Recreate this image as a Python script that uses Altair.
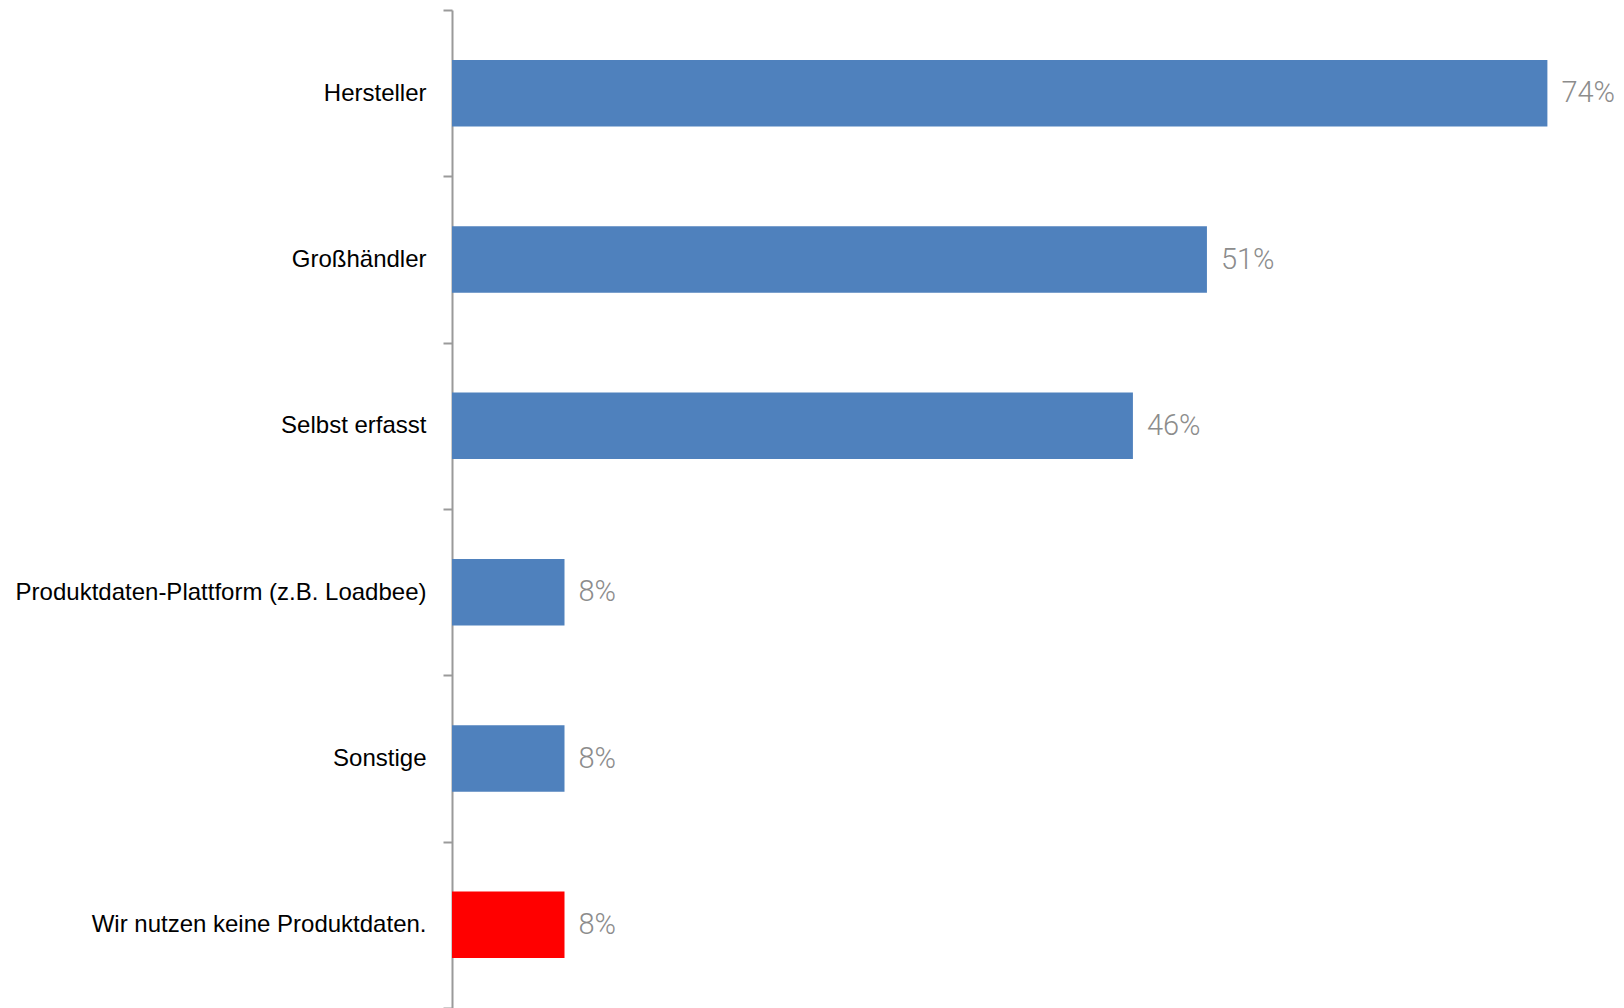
import altair as alt
import pandas as pd

categories = [
    "Hersteller",
    "Großhändler",
    "Selbst erfasst",
    "Produktdaten-Plattform (z.B. Loadbee)",
    "Sonstige",
    "Wir nutzen keine Produktdaten.",
]
values = [74.0, 51.0, 46.0, 7.6, 7.6, 7.6]
value_labels = ["74%", "51%", "46%", "8%", "8%", "8%"]
bar_colors = ["#4f81bd", "#4f81bd", "#4f81bd", "#4f81bd", "#4f81bd", "#ff0000"]

df = pd.DataFrame({
    "category": categories,
    "value": values,
    "label": value_labels,
    "color": bar_colors,
})

y_enc = alt.Y(
    "category:N",
    sort=categories,
    title=None,
    scale=alt.Scale(paddingInner=0, paddingOuter=0),
    axis=alt.Axis(
        domainColor="#9a9a9a",
        domainWidth=2,
        tickColor="#9a9a9a",
        tickWidth=2,
        tickSize=9,
        tickBand="extent",
        labelFont="Liberation Sans",
        labelFontSize=24,
        labelColor="#000000",
        labelPadding=17,
        labelLimit=600,
    ),
)
x_enc = alt.X("value:Q", scale=alt.Scale(domain=[0, 76], nice=False, zero=True), axis=None)

bars = alt.Chart(df).mark_bar(height={"band": 0.4}).encode(
    y=y_enc,
    x=x_enc,
    color=alt.Color("color:N", scale=None),
)

texts = alt.Chart(df).mark_text(
    align="left",
    baseline="middle",
    dx=14,
    font="Roboto",
    fontWeight=300,
    fontSize=29,
    color="#8c8c8c",
).encode(
    y=alt.Y("category:N", sort=categories),
    x=alt.X("value:Q"),
    text="label:N",
)

chart = (
    alt.layer(bars, texts)
    .properties(
        width=1125,
        height=998,
        autosize=alt.AutoSizeParams(type="none"),
        padding={"left": 444, "top": 2, "right": 39, "bottom": 0},
    )
    .configure_view(stroke=None)
)

chart.save("out.html", embed_options={"renderer": "svg", "actions": False})
